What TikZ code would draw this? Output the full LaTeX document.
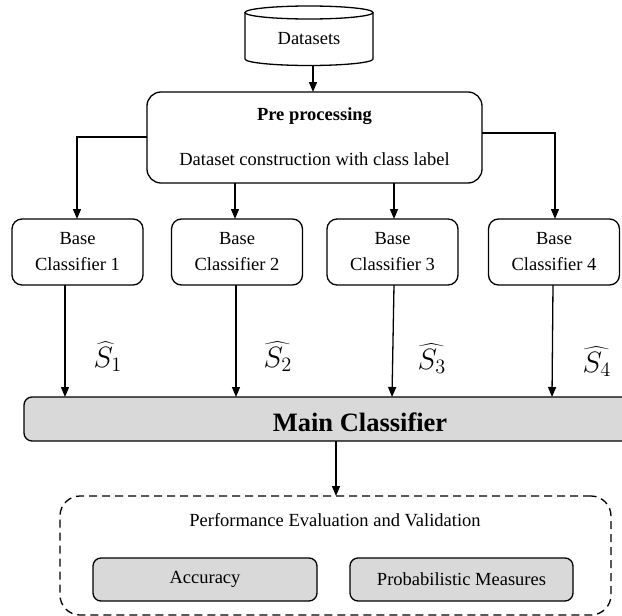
\documentclass[tikz,border=0pt]{standalone}
\usepackage{fontspec}
\setmainfont{Liberation Serif}
\usetikzlibrary{arrows.meta}
\definecolor{boxgray}{HTML}{D9D9D9}
\begin{document}
\begin{tikzpicture}[x=1pt,y=-1pt,
  line width=1.3pt,
  every node/.style={inner sep=0pt,outer sep=0pt},
  txt/.style={font=\fontsize{18.5}{22}\selectfont},
  rbox/.style={draw,rounded corners=10pt,align=center,txt},
  arr/.style={-{Triangle[width=8pt,length=10pt]}},
  lbl/.style={font=\fontsize{18}{20}\selectfont},
]
\useasboundingbox (0,0) rectangle (622,616);
% cylinder
\draw (245,12.5) -- (245,59) arc[start angle=180,end angle=360,x radius=64pt,y radius=6.5pt] -- (373,12.5);
\draw (309,12.5) ellipse [x radius=64pt,y radius=6.5pt];
\coordinate (dsb) at (313,65.5);
\node[txt] (ds) at (309,39) {Datasets};
% pre processing
\node[rbox,rounded corners=14pt,minimum width=335pt,minimum height=91pt] (pre) at (314.5,137.5) {};
\node[txt,font=\fontsize{18.5}{22}\selectfont\bfseries] (pretitle) at (314.5,116) {Pre processing};
\node[txt] (presub) at (314.5,159) {Dataset construction with class label};
% base classifiers
\node[rbox,minimum width=131pt,minimum height=66pt] (b1) at (77.5,252) {Base\\[4pt]Classifier 1};
\node[rbox,minimum width=131pt,minimum height=66pt] (b2) at (237,252) {Base\\[4pt]Classifier 2};
\node[rbox,minimum width=131pt,minimum height=66pt] (b3) at (392.5,252) {Base\\[4pt]Classifier 3};
\node[rbox,minimum width=131pt,minimum height=66pt] (b4) at (554,252) {Base\\[4pt]Classifier 4};
% main classifier
\node[draw,fill=boxgray,rounded corners=8pt,minimum width=606pt,minimum height=44pt] (main) at (327,419) {};
\node[font=\fontsize{26.5}{30}\selectfont\bfseries] (maintxt) at (360,422) {Main Classifier};
% evaluation
\node[draw,dashed,dash pattern=on 8pt off 5pt,rounded corners=20pt,minimum width=551pt,minimum height=119pt] (eval) at (335.5,555.5) {};
\node[txt] (evaltxt) at (335,520) {Performance Evaluation and Validation};
\node[draw,fill=boxgray,rounded corners=8pt,minimum width=224pt,minimum height=43pt,txt] (acc) at (205,579.5) {Accuracy};
\node[draw,fill=boxgray,rounded corners=8pt,minimum width=223pt,minimum height=43pt,txt] (prob) at (461.5,579.5) {Probabilistic Measures};
% labels
\node[lbl] (s1) at (108,357) {\scalebox{1.7}{$\widehat{S}_1$}};
\node[lbl] (s2) at (278,357) {\scalebox{1.7}{$\widehat{S_2}$}};
\node[lbl] (s3) at (432,359) {\scalebox{1.7}{$\widehat{S_3}$}};
\node[lbl] (s4) at (597,362) {\scalebox{1.7}{$\widehat{S_4}$}};
% connectors
\draw[arr] (dsb) -- (pre.north -| dsb);
\draw[arr] (pre.west |- 0,137) -| (b1.north -| 77,0);
\draw[arr] (pre.east |- 0,133) -| (b4.north -| 555,0);
\draw[arr] (pre.south -| 235,0) -- (b2.north -| 235,0);
\draw[arr] (pre.south -| 394,0) -- (b3.north -| 394,0);
\draw[arr] (b1.south -| 65,0) -- (main.north -| 65,0);
\draw[arr] (b2.south -| 236,0) -- (main.north -| 236,0);
\draw[arr] (b3.south -| 394,0) -- (main.north -| 392,0);
\draw[arr] (b4.south -| 553,0) -- (main.north -| 552,0);
\draw[arr] (main.south -| 336,0) -- (eval.north -| 336,0);
\end{tikzpicture}
\end{document}
